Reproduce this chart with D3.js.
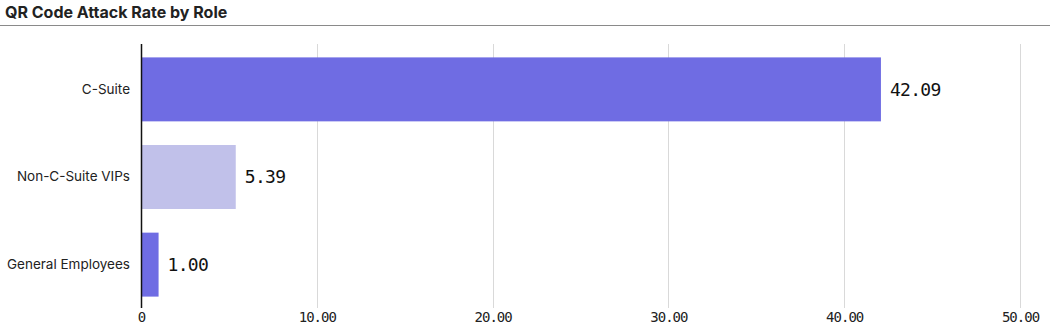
<!DOCTYPE html>
<html>
<head>
<meta charset="utf-8">
<script src="https://cdn.jsdelivr.net/npm/d3@7"></script>
<style>
  body { margin: 0; background: #fff; }
  svg { display: block; }
</style>
</head>
<body>
<div id="chart"></div>
<script>
let width = 1050;
let height = 332;

// data
let roles = ["C-Suite", "Non-C-Suite VIPs", "General Employees"];
let rates = [42.09, 5.39, 1.00];
let barColors = ["#6f6ce3", "#c1c1ea", "#6f6ce3"];
let tickValues = [0, 10, 20, 30, 40, 50];

let data = roles.map(function(r, i) { return {role: r, rate: rates[i], color: barColors[i]}; });

let svg = d3.select("#chart")
    .append("svg")
    .attr("width", width)
    .attr("height", height);

// title + rule
svg.append("text")
    .attr("x", 5)
    .attr("y", 18)
    .style("font-family", "Inter, 'Noto Sans', sans-serif")
    .style("font-weight", 700)
    .style("font-size", "16px")
    .attr("fill", "#222")
    .text("QR Code Attack Rate by Role");

svg.append("line")
    .attr("x1", 0).attr("x2", width)
    .attr("y1", 25.5).attr("y2", 25.5)
    .attr("stroke", "#8a8a8a")
    .attr("stroke-width", 1);

let x = d3.scaleLinear()
    .domain([0, 50])
    .range([141, 1020]);

let y = d3.scaleBand()
    .domain(roles)
    .range([46, 308])
    .paddingInner(0.27)
    .paddingOuter(0.13);

// gridlines
svg.append("g")
    .selectAll("line")
    .data(tickValues.slice(1))
    .enter()
    .append("line")
    .attr("x1", d => Math.round(x(d)) + 0.5)
    .attr("x2", d => Math.round(x(d)) + 0.5)
    .attr("y1", 44)
    .attr("y2", 308)
    .attr("stroke", "#d9d9d9")
    .attr("stroke-width", 1);

// bars
svg.append("g")
    .selectAll("rect")
    .data(data)
    .enter()
    .append("rect")
    .attr("x", x(0))
    .attr("y", d => y(d.role))
    .attr("width", d => x(d.rate) - x(0))
    .attr("height", y.bandwidth())
    .attr("fill", d => d.color);

// value labels
svg.append("g")
    .selectAll("text")
    .data(data)
    .enter()
    .append("text")
    .attr("x", d => x(d.rate) + 9)
    .attr("y", d => y(d.role) + y.bandwidth() / 2)
    .attr("dy", "0.36em")
    .style("font-family", "'DejaVu Sans Mono', monospace")
    .style("font-size", "18px")
    .style("letter-spacing", "-0.7px")
    .attr("fill", "#111")
    .text(d => d.rate.toFixed(2));

// y axis line
svg.append("line")
    .attr("x1", x(0) + 0.5).attr("x2", x(0) + 0.5)
    .attr("y1", 44).attr("y2", 308)
    .attr("stroke", "#111")
    .attr("stroke-width", 1.5);

// category labels
let yAxis = svg.append("g")
    .attr("transform", "translate(" + x(0) + ",0)")
    .call(d3.axisLeft(y).tickSize(0).tickPadding(11));
yAxis.select(".domain").remove();
yAxis.selectAll("text")
    .style("font-family", "Inter, 'Noto Sans', sans-serif")
    .style("font-size", "13.5px")
    .attr("fill", "#222");

// x axis tick labels
let xAxis = svg.append("g")
    .attr("transform", "translate(0,308)")
    .call(d3.axisBottom(x).tickValues(tickValues).tickSize(0).tickPadding(4)
        .tickFormat(d => d === 0 ? "0" : d3.format(".2f")(d)));
xAxis.select(".domain").remove();
xAxis.selectAll("text")
    .style("font-family", "'DejaVu Sans Mono', monospace")
    .style("font-size", "14px")
    .style("letter-spacing", "-1px")
    .attr("fill", "#222");
</script>
</body>
</html>
